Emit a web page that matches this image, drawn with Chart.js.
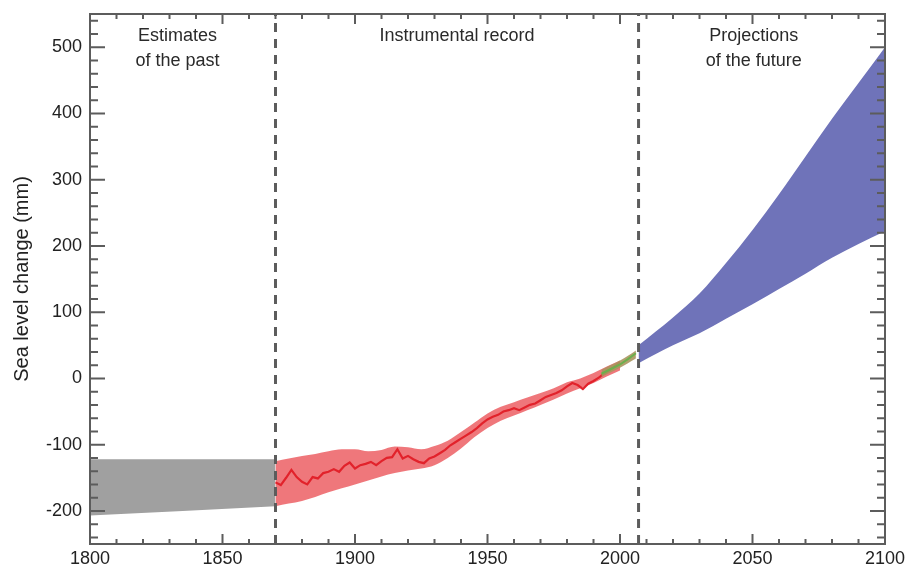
<!DOCTYPE html>
<html>
<head>
<meta charset="utf-8">
<script src="https://cdn.jsdelivr.net/npm/chart.js@4"></script>
<style>
  body { margin: 0; background: #fff; }
</style>
</head>
<body>
<canvas id="myChart" width="912" height="569"></canvas>
<script>
const ctx = document.getElementById('myChart');

// estimates of the past (grey band)
const pastYears = [1800, 1870];
const pastTop = [-122, -122];
const pastBottom = [-207, -193];

// instrumental record uncertainty band
const bandYears = [1870, 1875, 1880, 1885, 1890, 1895, 1900, 1905, 1910, 1915, 1920, 1925, 1930, 1935, 1940, 1945, 1950, 1955, 1960, 1965, 1970, 1975, 1980, 1985, 1990, 1995, 2000];
const bandTop = [-125, -121, -117, -114, -110, -107, -107, -110, -108, -103, -104, -107, -102, -94, -81, -67, -53, -43, -36, -29, -22, -15, -6, 0, 8, 18, 27];
const bandBottom = [-193, -189, -185, -179, -172, -166, -160, -154, -148, -143, -139, -136, -131, -120, -106, -89, -75, -64, -56, -48, -40, -32, -23, -15, -7, 3, 12];

// tide gauge record
const gaugeYears = [1870, 1872, 1874, 1876, 1878, 1880, 1882, 1884, 1886, 1888, 1890, 1892, 1894, 1896, 1898, 1900, 1902, 1904, 1906, 1908, 1910, 1912, 1914, 1916, 1918, 1920, 1922, 1924, 1926, 1928, 1930, 1932, 1934, 1936, 1938, 1940, 1942, 1944, 1946, 1948, 1950, 1952, 1954, 1956, 1958, 1960, 1962, 1964, 1966, 1968, 1970, 1972, 1974, 1976, 1978, 1980, 1982, 1984, 1986, 1988, 1990, 1992, 1994, 1996, 1998, 2000];
const gaugeValues = [-157, -161, -150, -138, -149, -156, -160, -149, -151, -143, -141, -137, -141, -132, -127, -136, -131, -129, -126, -131, -125, -120, -119, -107, -121, -117, -122, -126, -128, -121, -118, -113, -108, -101, -96, -91, -86, -81, -75, -68, -62, -58, -55, -50, -48, -45, -48, -44, -40, -38, -33, -28, -25, -22, -18, -12, -7, -10, -16, -8, -4, 1, 7, 12, 18, 24];

// satellite altimetry
const satYears = [1993, 1996, 2000, 2003, 2006];
const satTop = [13, 19, 27, 34, 42];
const satBottom = [2, 8, 16, 23, 30];
const satValues = [7, 13, 21, 29, 38];

// projections of the future
const projYears = [2007, 2020, 2030, 2040, 2050, 2060, 2070, 2080, 2090, 2100];
const projTop = [50, 92, 128, 174, 224, 278, 335, 392, 446, 500];
const projBottom = [23, 50, 68, 90, 112, 135, 158, 182, 203, 222];

// period dividers and axis ticks
const dividers = [1870, 2007];
const yTicks = [-200, -100, 0, 100, 200, 300, 400, 500];
const xMin = 1800, xMax = 2100, yMin = -250, yMax = 550;

const pts = (xs, ys) => xs.map((x, i) => ({x: x, y: ys[i]}));

const FAMILY = "'Liberation Sans', Arial, Helvetica, sans-serif";
const FONT = {family: FAMILY, size: 18};
const AXIS = '#5c5c5c';

const band = (xs, ys, color, order) => ({
  data: pts(xs, ys), fill: '+1', backgroundColor: color, borderWidth: 0,
  pointRadius: 0, cubicInterpolationMode: 'monotone', order: order
});
const edge = (xs, ys, order) => ({
  data: pts(xs, ys), fill: false, borderWidth: 0, pointRadius: 0,
  cubicInterpolationMode: 'monotone', order: order
});

const frame = {
  id: 'frame',
  afterDatasetsDraw(chart) {
    const {ctx, chartArea: a, scales: {x, y}} = chart;
    ctx.save();
    ctx.strokeStyle = AXIS;
    ctx.lineWidth = 2;
    ctx.strokeRect(a.left, a.top, a.right - a.left, a.bottom - a.top);
    ctx.beginPath();
    for (let v = xMin + 10; v < xMax; v += 10) {
      const px = x.getPixelForValue(v);
      const len = v % 50 === 0 ? 10 : 5;
      ctx.moveTo(px, a.bottom); ctx.lineTo(px, a.bottom - len);
      ctx.moveTo(px, a.top); ctx.lineTo(px, a.top + len);
    }
    for (let v = -240; v < yMax; v += 20) {
      const py = y.getPixelForValue(v);
      const len = v % 100 === 0 ? 15 : 8;
      ctx.moveTo(a.left, py); ctx.lineTo(a.left + len, py);
      ctx.moveTo(a.right, py); ctx.lineTo(a.right - len, py);
    }
    ctx.stroke();

    ctx.fillStyle = '#2a2a2a';
    ctx.font = '18px ' + FAMILY;
    ctx.textAlign = 'center';
    ctx.textBaseline = 'middle';
    ctx.fillText('Estimates', x.getPixelForValue(1833), 36);
    ctx.fillText('of the past', x.getPixelForValue(1833), 61);
    ctx.fillText('Instrumental record', x.getPixelForValue(1938.5), 36);
    ctx.fillText('Projections', x.getPixelForValue(2050.5), 36);
    ctx.fillText('of the future', x.getPixelForValue(2050.5), 61);
    ctx.restore();
  }
};

new Chart(ctx, {
  type: 'line',
  data: {
    datasets: [
      band(pastYears, pastTop, '#a0a0a0', 10),
      edge(pastYears, pastBottom, 10),
      band(bandYears, bandTop, 'rgba(238,112,116,0.95)', 9),
      edge(bandYears, bandBottom, 9),
      band(projYears, projTop, '#6f73b9', 8),
      edge(projYears, projBottom, 8),
      band(satYears, satTop, 'rgba(170,150,95,0.9)', 5),
      edge(satYears, satBottom, 5),
      {
        data: pts(gaugeYears, gaugeValues), borderColor: '#e2222b', borderWidth: 2.2,
        pointRadius: 0, tension: 0, fill: false, order: 6
      },
      {
        data: pts(satYears, satValues), borderColor: '#6bb04d', borderWidth: 2,
        pointRadius: 0, tension: 0, fill: false, order: 4
      },
      ...dividers.map(d => ({
        data: [{x: d, y: yMin}, {x: d, y: yMax}], borderColor: '#5c5c5c', borderWidth: 3,
        borderDash: [9, 7], pointRadius: 0, fill: false, order: 1
      }))
    ]
  },
  options: {
    responsive: false,
    animation: false,
    layout: { padding: { top: 14, right: 27, left: 0, bottom: 0 } },
    plugins: { legend: { display: false }, tooltip: { enabled: false } },
    scales: {
      x: {
        type: 'linear', min: xMin, max: xMax,
        grid: { display: false, drawTicks: false }, border: { display: false },
        ticks: { stepSize: 50, font: FONT, color: '#222', padding: 4, maxRotation: 0,
          callback: v => String(v) },
        afterFit: s => { s.height = 25; s.paddingLeft = 0; s.paddingRight = 0; }
      },
      y: {
        min: yMin, max: yMax,
        grid: { display: false, drawTicks: false }, border: { display: false },
        afterBuildTicks: s => { s.ticks = yTicks.map(v => ({value: v})); },
        ticks: { font: FONT, color: '#222', padding: 8, callback: v => String(v) },
        title: { display: true, text: 'Sea level change (mm)', font: {family: FAMILY, size: 20}, color: '#222',
          padding: { top: 10, bottom: 0 } },
        afterFit: s => { s.width = 90; s.paddingTop = 0; s.paddingBottom = 0; }
      }
    }
  },
  plugins: [frame]
});
</script>
</body>
</html>
